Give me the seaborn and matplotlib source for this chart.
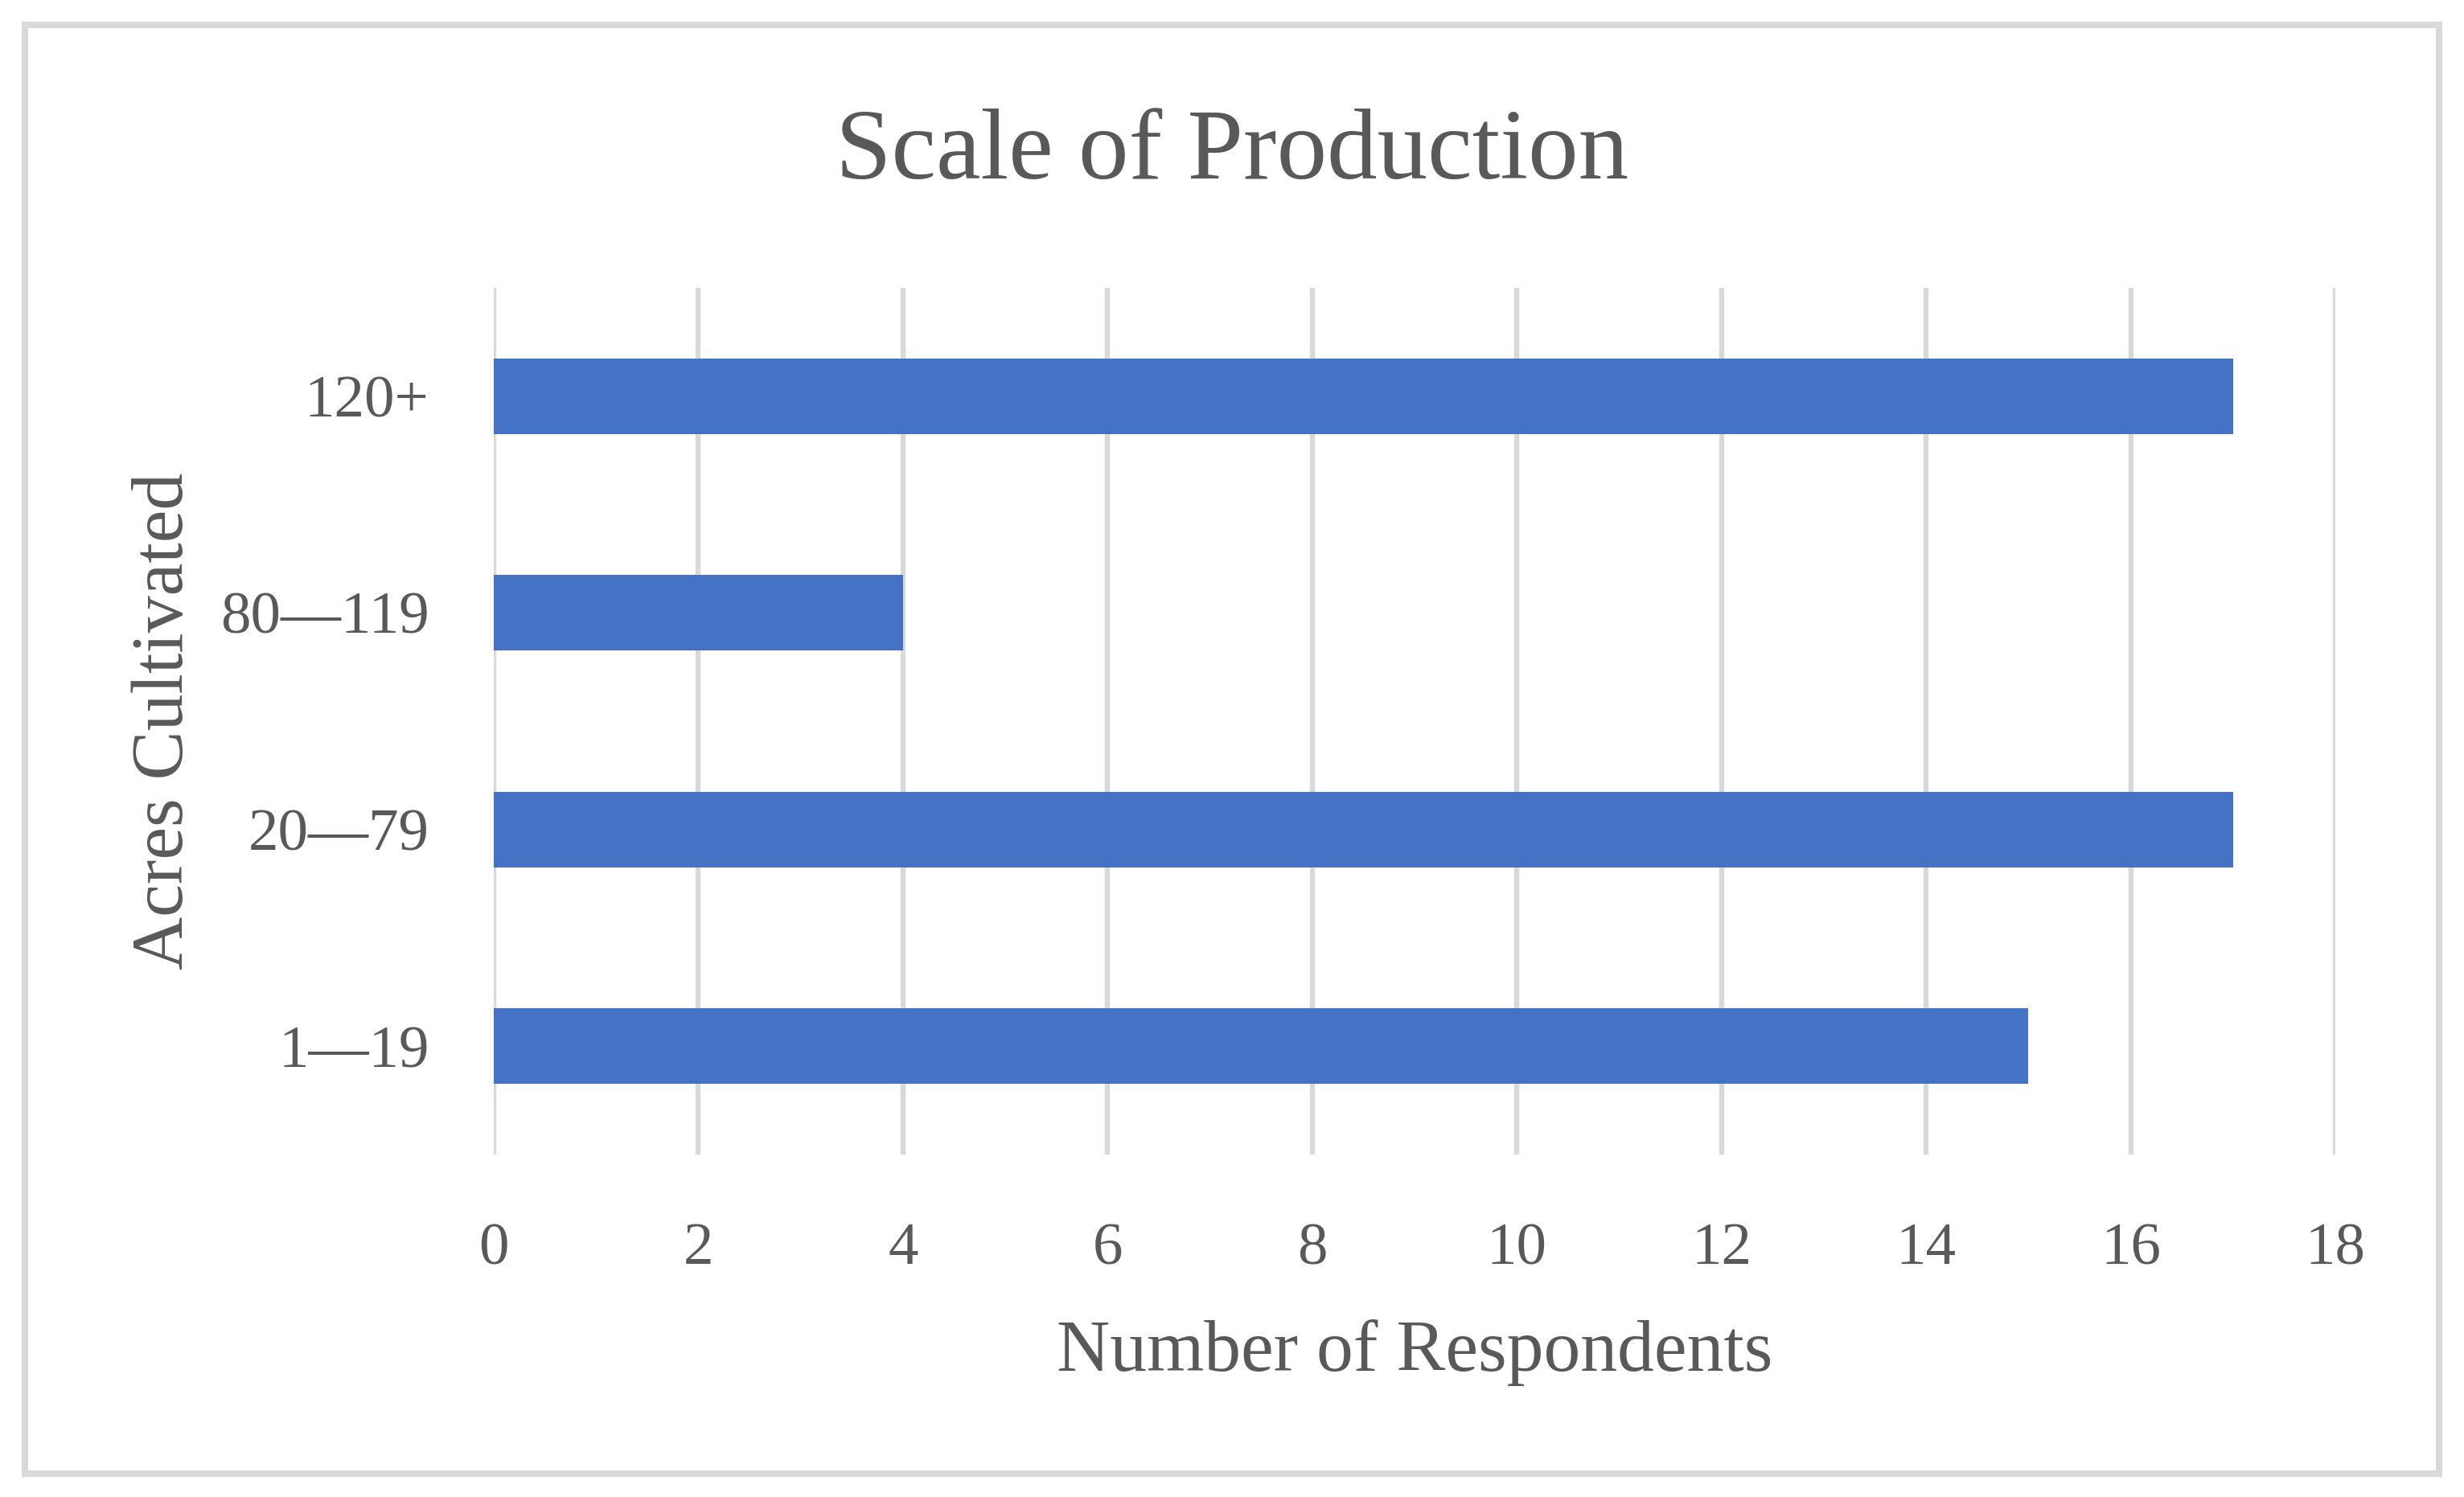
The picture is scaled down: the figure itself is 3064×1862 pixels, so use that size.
import pandas as pd
import matplotlib.pyplot as plt
import matplotlib.patches as patches
import seaborn as sns

# data
acres = ["120+", "80\u2014119", "20\u201479", "1\u201419"]
respondents = [17, 4, 17, 15]
x_ticks = [0, 2, 4, 6, 8, 10, 12, 14, 16, 18]

df = pd.DataFrame({"Acres Cultivated": acres, "Number of Respondents": respondents})

sns.set_theme(style="white")
plt.rcParams['font.family'] = ['Liberation Serif', 'DejaVu Serif']

grey = "#595959"
W, H = 3064, 1862
fig = plt.figure(figsize=(W / 200, H / 200), dpi=200)
fig.subplots_adjust(left=614 / W, right=2904 / W, bottom=1 - 1436 / H, top=1 - 358 / H)
ax = fig.add_subplot(111)

sns.barplot(data=df, x="Number of Respondents", y="Acres Cultivated", order=acres,
            color="#4472C4", width=0.35, saturation=1, linewidth=0, ax=ax)

ax.set_xlim(0, 18)
ax.set_ylim(3.5, -0.5)
ax.set_xticks(x_ticks)
ax.set_xticklabels([str(t) for t in x_ticks])
ax.grid(axis="x", color="#D9D9D9", lw=2.3)
ax.grid(axis="y", visible=False)
ax.set_axisbelow(True)
sns.despine(ax=ax, left=True, bottom=True)

ax.tick_params(axis="x", length=0, pad=30.5, labelsize=27, labelcolor=grey)
ax.tick_params(axis="y", length=0, pad=29, labelsize=27, labelcolor=grey)

ax.set_xlabel("Number of Respondents", fontsize=33, color=grey, va="center")
ax.set_ylabel("Acres Cultivated", fontsize=33, color=grey, va="center")
ax.xaxis.set_label_coords(0.5, (1436 - 1683) / 1078)
ax.yaxis.set_label_coords((205 - 614) / 2290, 0.5)

fig.text(0.5, 1 - 192 / H, "Scale of Production", fontsize=45, color=grey,
         ha="center", va="center")

# light frame round the whole chart
fig.patches.append(patches.Rectangle((31 / W, 1 - 1833 / H), (3033 - 31) / W, (1833 - 31) / H,
                                     transform=fig.transFigure, fill=False,
                                     edgecolor="#D9D9D9", lw=2.9))

fig.savefig("out.png", dpi=200)
